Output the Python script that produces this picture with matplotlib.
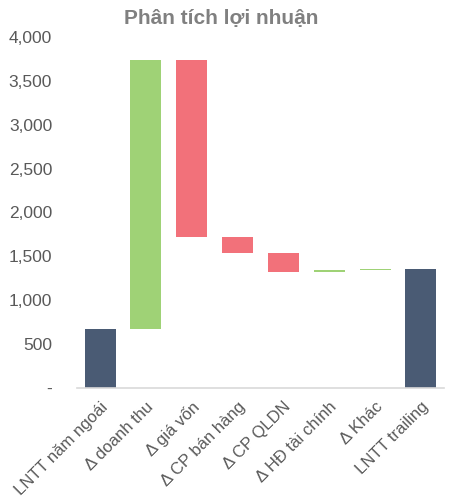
import numpy as np
import matplotlib.pyplot as plt

plt.rcParams['font.family'] = ['Liberation Sans', 'DejaVu Sans']

nhan = ['LNTT năm ngoái', 'Δ doanh thu', 'Δ giá vốn', 'Δ CP bán hàng',
        'Δ CP QLDN', 'Δ HĐ tài chính', 'Δ Khác', 'LNTT trailing']
dau_ky = 670
bien_dong = [3070, -2020, -185, -215, 20, 15]

# tinh day va chieu cao cua tung cot
cuoi_ky = dau_ky + sum(bien_dong)
muc = np.cumsum([dau_ky] + bien_dong)
day = [0]
cao = [dau_ky]
mau = ['#4a5b74']
for i, d in enumerate(bien_dong):
    day.append(min(muc[i], muc[i + 1]))
    cao.append(abs(d))
    mau.append('#9fd276' if d > 0 else '#f2717a')
day.append(0)
cao.append(cuoi_ky)
mau.append('#4a5b74')

fig = plt.figure(figsize=(4.51, 5.04), dpi=100)
ax = fig.add_axes([0.171, 0.230, 0.813, 0.697])
x = np.arange(len(nhan))
ax.bar(x, cao, bottom=day, width=0.675, color=mau, linewidth=0)

ax.set_xlim(-0.5, 7.5)
ax.set_ylim(0, 4000)
ax.set_yticks(range(0, 4001, 500))
ax.set_yticklabels(['-' if v == 0 else f'{v:,}' for v in range(0, 4001, 500)])
ax.set_xticks(x)
ax.set_xticklabels(nhan, rotation=45, ha='right', rotation_mode='anchor')
for s in ['top', 'right', 'left']:
    ax.spines[s].set_visible(False)
ax.spines['bottom'].set_color('#d9d9d9')
ax.spines['bottom'].set_linewidth(1.2)
ax.tick_params(axis='both', length=0, labelsize=12.5, colors='#595959')
ax.tick_params(axis='x', labelsize=12, pad=8)
ax.tick_params(axis='y', pad=18)

fig.suptitle('Phân tích lợi nhuận', x=0.49, y=0.982, fontsize=15,
             fontweight='bold', color='#808080')

fig.savefig('out.png', dpi=100)
